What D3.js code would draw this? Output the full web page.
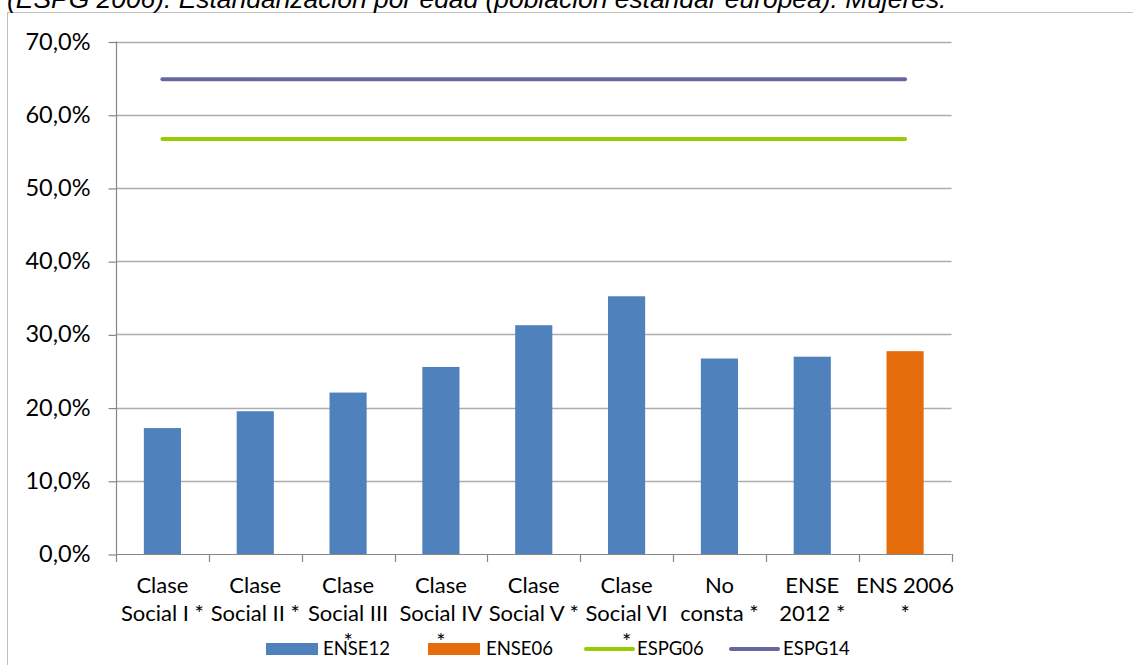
<!DOCTYPE html>
<html>
<head>
<meta charset="utf-8">
<script src="https://cdn.jsdelivr.net/npm/d3@7"></script>
<style>
  html, body { margin: 0; padding: 0; background: #ffffff; overflow: hidden; }
  svg { display: block; }
</style>
</head>
<body>
<svg id="chart" width="1133" height="665"></svg>
<script>
// ---------------- DATA ----------------
const titleText = "(ESPG 2006). Estandarización por edad (población estándar europea). Mujeres.";
const categories = [
  "Clase Social I *", "Clase Social II *", "Clase Social III *", "Clase Social IV *",
  "Clase Social V *", "Clase Social VI *", "No consta *", "ENSE 2012 *", "ENS 2006 *"
];
const categoryLabelLines = [
  ["Clase", "Social I *"],
  ["Clase", "Social II *"],
  ["Clase", "Social III", "*"],
  ["Clase", "Social IV", "*"],
  ["Clase", "Social V *"],
  ["Clase", "Social VI", "*"],
  ["No", "consta *"],
  ["ENSE", "2012 *"],
  ["ENS 2006", "*"]
];
const ense12 = [17.2, 19.5, 22.05, 25.55, 31.25, 35.2, 26.7, 26.95, null];
const ense06 = [null, null, null, null, null, null, null, null, 27.7];
const espg06 = [56.7, 56.7, 56.7, 56.7, 56.7, 56.7, 56.7, 56.7, 56.7];
const espg14 = [64.85, 64.85, 64.85, 64.85, 64.85, 64.85, 64.85, 64.85, 64.85];
const yTickValues = [0, 10, 20, 30, 40, 50, 60, 70];
const seriesNames = ["ENSE12", "ENSE06", "ESPG06", "ESPG14"];

// ---------------- STYLE ----------------
const colors = { ENSE12: "#4F81BD", ENSE06: "#E46C0A", ESPG06: "#99CC00", ESPG14: "#6767A0" };
const chartFont = "Lato, 'Open Sans', sans-serif";
const yFontSize = 23.5;
const xFontSize = 22;
const legendFontSize = 18.5;

const svg = d3.select("#chart");
const plotLeft = 116, plotRight = 951.5;

const x = d3.scaleBand()
  .domain(categories)
  .range([plotLeft, plotRight])
  .paddingInner(0.6)
  .paddingOuter(0.3);

const y = d3.scaleLinear().domain([0, 70]).range([554, 41.5]);

const fmtLocale = d3.formatLocale({ decimal: ",", thousands: ".", grouping: [3], currency: ["", "€"] });
const pct = v => fmtLocale.format(".1f")(v) + "%";

// frame
svg.append("line").attr("x1", 7.5).attr("x2", 7.5).attr("y1", 12).attr("y2", 665)
  .attr("stroke", "#BFBFBF").attr("stroke-width", 1);
svg.append("line").attr("x1", 7.5).attr("x2", 1133).attr("y1", 12.5).attr("y2", 12.5)
  .attr("stroke", "#BFBFBF").attr("stroke-width", 1);

// title (cut at top)
const title = svg.append("text")
  .attr("x", 7).attr("y", 8)
  .attr("font-family", "'Liberation Sans', Arial, sans-serif")
  .attr("font-style", "italic")
  .attr("font-size", 22)
  .attr("fill", "#000")
  .text(titleText);
const tl = title.node().getComputedTextLength();
title.attr("font-size", 22 * 940 / tl);

// gridlines
svg.append("g")
  .selectAll("line")
  .data(yTickValues.filter(d => d > 0))
  .join("line")
  .attr("x1", plotLeft).attr("x2", plotRight)
  .attr("y1", d => Math.round(y(d)) + 0.5).attr("y2", d => Math.round(y(d)) + 0.5)
  .attr("stroke", "#ADADAD").attr("stroke-width", 1.3);

// y axis
const yAxis = svg.append("g")
  .attr("transform", `translate(${plotLeft + 0.5},0)`)
  .call(d3.axisLeft(y).tickValues(yTickValues).tickFormat(pct).tickSize(8).tickPadding(18));
yAxis.select(".domain").remove();
yAxis.selectAll(".tick line").attr("stroke", "#868686").attr("stroke-width", 1.2)
  .attr("transform", "translate(0,0.5)");
yAxis.selectAll(".tick text")
  .attr("font-family", chartFont).attr("font-size", yFontSize).attr("fill", "#000");
svg.append("line")
  .attr("x1", plotLeft + 0.5).attr("x2", plotLeft + 0.5)
  .attr("y1", y(70)).attr("y2", 562)
  .attr("stroke", "#868686").attr("stroke-width", 1.2);

// bars ENSE12
svg.append("g").selectAll("rect")
  .data(categories.map((c, i) => ({ c, v: ense12[i] })).filter(d => d.v != null))
  .join("rect")
  .attr("x", d => x(d.c)).attr("width", x.bandwidth())
  .attr("y", d => y(d.v)).attr("height", d => y(0) - y(d.v))
  .attr("fill", colors.ENSE12);

// bars ENSE06
svg.append("g").selectAll("rect")
  .data(categories.map((c, i) => ({ c, v: ense06[i] })).filter(d => d.v != null))
  .join("rect")
  .attr("x", d => x(d.c)).attr("width", x.bandwidth())
  .attr("y", d => y(d.v)).attr("height", d => y(0) - y(d.v))
  .attr("fill", colors.ENSE06);

// x axis
const xAxisLine = svg.append("g");
xAxisLine.append("line")
  .attr("x1", plotLeft).attr("x2", plotRight)
  .attr("y1", 554.5).attr("y2", 554.5)
  .attr("stroke", "#868686").attr("stroke-width", 1.2);
const boundaries = categories.map(c => x(c) - x.step() * x.paddingInner() / 2);
boundaries.push(plotRight);
xAxisLine.selectAll("line.tk")
  .data(boundaries.slice(1))
  .join("line").attr("class", "tk")
  .attr("x1", d => Math.round(d) + 0.5).attr("x2", d => Math.round(d) + 0.5)
  .attr("y1", 554).attr("y2", 562)
  .attr("stroke", "#868686").attr("stroke-width", 1.2);

// lines
const line = d3.line()
  .x((d, i) => x(categories[i]) + x.bandwidth() / 2)
  .y(d => y(d));
[["ESPG06", espg06], ["ESPG14", espg14]].forEach(([name, vals]) => {
  svg.append("path")
    .attr("d", line(vals))
    .attr("fill", "none")
    .attr("stroke", colors[name])
    .attr("stroke-width", 4)
    .attr("stroke-linecap", "round");
});

// x labels
const xl = svg.append("g");
categories.forEach((c, i) => {
  const cx = x(c) + x.bandwidth() / 2;
  const t = xl.append("text")
    .attr("text-anchor", "middle")
    .attr("font-family", chartFont).attr("font-size", xFontSize).attr("fill", "#000");
  categoryLabelLines[i].forEach((ln, j) => {
    t.append("tspan").attr("x", cx).attr("y", 592.5 + j * 28.3).text(ln);
  });
});

// legend
const legend = svg.append("g");
const legendItems = [
  { name: seriesNames[0], type: "rect", x0: 266, x1: 318, tx: 323 },
  { name: seriesNames[1], type: "rect", x0: 428, x1: 480, tx: 486 },
  { name: seriesNames[2], type: "line", x0: 586, x1: 633, tx: 637 },
  { name: seriesNames[3], type: "line", x0: 731, x1: 778, tx: 783 }
];
legendItems.forEach(it => {
  if (it.type === "rect") {
    legend.append("rect").attr("x", it.x0).attr("y", 643).attr("width", it.x1 - it.x0).attr("height", 12)
      .attr("fill", colors[it.name]);
  } else {
    legend.append("line").attr("x1", it.x0).attr("x2", it.x1).attr("y1", 649).attr("y2", 649)
      .attr("stroke", colors[it.name]).attr("stroke-width", 4).attr("stroke-linecap", "round");
  }
  legend.append("text").attr("x", it.tx).attr("y", 655)
    .attr("font-family", chartFont).attr("font-size", legendFontSize).attr("fill", "#000")
    .text(it.name);
});
</script>
</body>
</html>
